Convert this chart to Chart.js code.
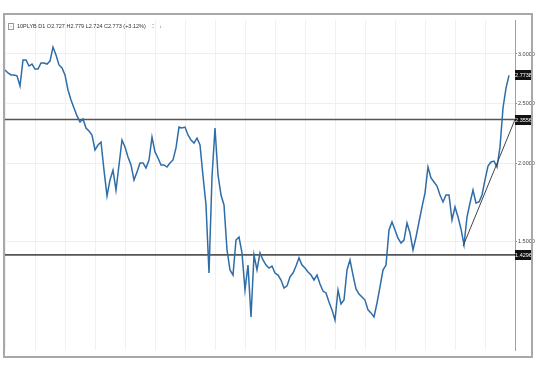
<!DOCTYPE html>
<html>
<head>
<meta charset="utf-8">
<script src="https://cdn.jsdelivr.net/npm/chart.js@4.4.1/dist/chart.umd.min.js"></script>
<style>
  html,body{margin:0;padding:0;background:#fff;}
  #wrap{position:relative;width:536px;height:371px;}
  #hdr{position:absolute;left:8px;top:23px;font-family:"Liberation Sans Narrow","Liberation Sans",Arial,sans-serif;font-size:5.5px;color:#333;white-space:nowrap;line-height:7px;}
  #hdr .bx{display:inline-block;width:4px;height:5px;border:1px solid #999;vertical-align:middle;margin-right:3px;font-size:5px;line-height:5px;text-align:center;color:#777;}
  #hdr .ic{color:#666;margin-left:5px;}
</style>
</head>
<body>
<div id="wrap">
  <canvas id="c" width="536" height="371"></canvas>
  <div id="hdr"><span class="bx">-</span>10PLYB D1 O2.727 H2.779 L2.724 C2.773 (+3.12%) <span class="ic">⁚⁚</span><span class="ic">↓</span></div>
</div>
<script>
// daily closes
const yields = [
2.828,2.797,2.777,2.777,2.767,2.666,2.934,2.934,2.870,2.891,
2.838,2.838,2.902,2.902,2.891,2.923,3.078,2.989,2.881,2.849,
2.777,2.627,2.532,2.458,2.387,2.335,2.361,2.283,2.258,2.225,
2.105,2.144,2.168,1.955,1.777,1.885,1.955,1.816,1.992,2.184,
2.128,2.052,1.992,1.885,1.941,2.007,2.007,1.970,2.029,2.208,
2.090,2.044,1.992,1.992,1.977,2.007,2.029,2.121,2.291,2.283,
2.291,2.225,2.184,2.160,2.200,2.144,1.913,1.719,1.337,1.906,
2.283,1.920,1.783,1.719,1.456,1.352,1.327,1.510,1.527,1.440,
1.256,1.377,1.137,1.429,1.352,1.440,1.403,1.377,1.362,1.372,
1.337,1.327,1.303,1.265,1.275,1.318,1.337,1.372,1.414,1.377,
1.362,1.342,1.327,1.303,1.327,1.284,1.251,1.242,1.201,1.167,
1.124,1.256,1.193,1.210,1.352,1.403,1.327,1.261,1.237,1.224,
1.210,1.167,1.154,1.137,1.197,1.270,1.352,1.377,1.567,1.614,
1.567,1.521,1.493,1.510,1.608,1.550,1.456,1.527,1.614,1.706,
1.796,1.977,1.899,1.871,1.843,1.783,1.738,1.783,1.783,1.626,
1.706,1.644,1.573,1.483,1.644,1.731,1.816,1.731,1.738,1.783,
1.885,1.984,2.014,2.021,1.977,2.128,2.458,2.646,2.773
];
const yTicks = [1.5, 2.0, 2.5, 3.0];
const levels = [2.3556, 1.4296];
const tags = [2.7738, 2.3556, 1.4296];
const trendIdx = [152.7, 170];
const trendVal = [1.477, 2.3556];
const xMin = 0, xMax = 170;
const yMin = 1.0064, yMax = 3.401;

const datasets = [{
  data: yields.map((v,i)=>({x:i,y:v})),
  borderColor:'#2e6da8', borderWidth:1.5, pointRadius:0, tension:0, order:1
}];
levels.forEach(l=>datasets.push({
  data:[{x:xMin,y:l},{x:xMax,y:l}],
  borderColor:'#555', borderWidth:1.6, pointRadius:0, order:2
}));
datasets.push({
  data: trendIdx.map((x,i)=>({x:x,y:trendVal[i]})),
  borderColor:'#444', borderWidth:1, pointRadius:0, order:0
});

const deco = {
  id:'deco',
  afterDraw(chart){
    const ctx = chart.ctx, ys = chart.scales.y;
    ctx.save();
    ctx.font = '5.5px "Liberation Sans Narrow", "Liberation Sans", Arial';
    ctx.textAlign='center'; ctx.textBaseline='middle';
    tags.forEach(v=>{
      const py = ys.getPixelForValue(v);
      ctx.fillStyle='#111';
      ctx.fillRect(ys.left, Math.round(py)-5, 17, 10);
      ctx.fillStyle='#fff';
      ctx.fillText(v.toFixed(4), ys.left+8.5, py+0.5);
    });
    ctx.strokeStyle='#a8a8a8'; ctx.lineWidth=2;
    ctx.strokeRect(4,14,528,343);
    ctx.restore();
  }
};

new Chart(document.getElementById('c'), {
  type:'line',
  data:{datasets},
  options:{
    responsive:false, animation:false, devicePixelRatio:1,
    layout:{padding:{left:5,top:20,right:0,bottom:21}},
    plugins:{legend:{display:false}, tooltip:{enabled:false}},
    scales:{
      x:{type:'linear', min:xMin, max:xMax,
         ticks:{display:false, stepSize:10},
         grid:{color:'#f1f1f1', drawTicks:false},
         border:{display:false},
         afterFit(s){ s.height = 0; }},
      y:{type:'logarithmic', position:'right', min:yMin, max:yMax, bounds:'data',
         afterBuildTicks(s){ s.ticks = yTicks.map(v=>({value:v})); },
         afterFit(s){ s.width = 21; },
         ticks:{callback:v=>Number(v).toFixed(4), font:{family:'"Liberation Sans Narrow", "Liberation Sans", Arial', size:5.5}, color:'#444', padding:1, autoSkip:false},
         grid:{color:'#efefef', tickLength:2, tickColor:'#888'},
         border:{color:'#a0a0a0', width:1}}
    }
  },
  plugins:[deco]
});
</script>
</body>
</html>
